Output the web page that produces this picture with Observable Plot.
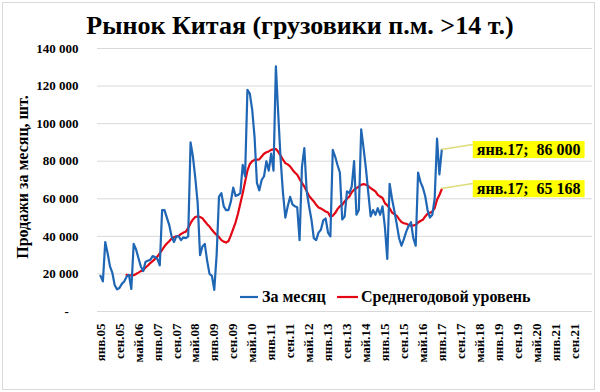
<!DOCTYPE html>
<html><head><meta charset="utf-8">
<script src="https://cdn.jsdelivr.net/npm/d3@7"></script>
<script src="https://cdn.jsdelivr.net/npm/@observablehq/plot@0.6"></script>
<style>
body{margin:0;background:#fff;}
#chart{position:relative;width:600px;height:392px;}
svg text{font-family:"Liberation Serif","Times New Roman",serif;}
</style></head><body><div id="chart"></div>
<script>
// Monthly sales, Jan 2005 .. Jan 2017
const monthly = [
 19000,16000,37000,31000,24000,20500,14000,11800,12500,14700,16000,18500,
 19500,12000,36000,33000,28500,24000,21500,26500,27000,27500,29500,29000,
 28000,24500,54000,54000,50000,46000,40000,37000,40000,40000,38000,39500,
 39000,40000,90000,82500,71000,57700,30000,34600,36000,27000,20000,19000,
 11500,30000,61200,63000,56000,54000,54000,58500,66000,61500,62000,63000,
 78000,72000,118000,116000,107500,93000,68500,64500,70000,72000,80000,75000,
 84000,75000,130500,105000,81000,63000,50000,56000,61000,57000,56000,55500,
 38000,77000,87000,64000,56000,49000,39000,38000,42000,43500,48500,49500,
 42000,40000,86000,82500,78000,74000,49000,50500,64000,63000,66500,80000,
 51500,54000,97000,87000,76000,63000,50600,54000,51500,55000,51500,56000,
 45000,28000,68000,60000,53500,46500,39000,35000,38500,42500,45500,47500,
 39000,35000,74000,69000,66000,61500,54000,50000,51500,60000,92000,73000,
 86000
];
// 12-month average, Dec 2005 .. Jan 2017
const avgStartIndex = 11;
const yearAvg = [
 19500,
 19300,19200,19300,20000,20700,21500,22000,23400,24500,25800,26800,28000,
 29200,31000,32800,34700,36200,37400,38800,39500,40000,40300,41300,42000,
 42500,44500,47000,49000,50300,50600,50300,49700,48000,46500,45200,43500,
 42000,40800,39600,38000,37200,36700,37500,40500,44000,47500,52000,57500,
 63000,69000,75000,78500,80000,80700,80800,81000,82500,84000,84800,85200,
 86000,86300,86500,85000,83000,80800,79000,78300,77300,75500,74000,72800,
 70500,68500,66500,64000,61500,60000,58600,56800,55400,54800,54100,53200,
 52700,50500,51000,52400,54500,56000,56800,58600,60000,61200,63500,64800,
 65700,66500,67500,67800,67500,66700,65700,64800,63900,62100,61200,60400,
 57700,56500,55000,52700,51800,50900,49200,47600,47000,46700,46100,45600,
 45800,46100,47400,48200,48800,50600,52000,52500,53200,55000,59500,62000,
 65168
];
const xTickPos = [0,8,16,24,32,40,48,56,64,72,80,88,96,104,112,120,128,136,144,152,160,168,176,184,192,200];
const xTickLabels = ["янв.05","сен.05","май.06","янв.07","сен.07","май.08","янв.09","сен.09","май.10","янв.11","сен.11","май.12","янв.13","сен.13","май.14","янв.15","сен.15","май.16","янв.17","сен.17","май.18","янв.19","сен.19","май.20","янв.21","сен.21"];
const yTicks = [0,20000,40000,60000,80000,100000,120000,140000];
const yTickLabels = ["-\u00a0\u00a0\u00a0","20 000","40 000","60 000","80 000","100 000","120 000","140 000"];
const seriesNames = ["За месяц","Среднегодовой уровень"];
const seriesColors = ["#1f66b5","#e30613"];
const calloutLabels = ["янв.17;\u00a0 86 000","янв.17;\u00a0 65 168"];
const titleText = "Рынок Китая (грузовики п.м. >14 т.)";
const yTitleText = "Продажи за месяц, шт.";

const monthlyData = monthly.map((v,i)=>({i, v}));
const avgData = yearAvg.map((v,k)=>({i:k+avgStartIndex, v}));
const last = monthly.length-1;
const callouts = [
  {i:last, v:monthly[last], label:calloutLabels[0]},
  {i:avgStartIndex+yearAvg.length-1, v:yearAvg[yearAvg.length-1], label:calloutLabels[1]}
];

const chart = Plot.plot({
  width:600, height:392, marginLeft:97, marginRight:8, marginTop:48, marginBottom:81,
  style:{fontFamily:"Liberation Serif, serif", background:"#fff", overflow:"visible"},
  x:{type:"linear", domain:[-1.27,207.6]},
  y:{domain:[0,140000]},
  marks:[
    Plot.gridY(yTicks, {stroke:"#d9d9d9", strokeOpacity:1, strokeWidth:1}),
    Plot.axisY(yTicks, {tickFormat:d=>yTickLabels[yTicks.indexOf(d)], tickSize:0, tickPadding:19, fontSize:13, fontWeight:"bold", label:null}),
    Plot.axisX(xTickPos, {tickFormat:d=>xTickLabels[xTickPos.indexOf(d)], tickRotate:-90, tickSize:0, tickPadding:12, fontSize:13, fontWeight:"bold", label:null}),
    Plot.line(avgData, {x:"i", y:"v", stroke:seriesColors[1], strokeWidth:2.2}),
    Plot.line(monthlyData, {x:"i", y:"v", stroke:seriesColors[0], strokeWidth:2.2}),
    Plot.text(callouts, {x:"i", y:"v", text:"label", dx:35, textAnchor:"start", fontSize:16, fontWeight:"bold", fill:"#000"})
  ]
});
document.getElementById("chart").appendChild(chart);

const svg = d3.select(chart);
const sx = chart.scale("x"), sy = chart.scale("y");
// frame
svg.insert("rect", ":first-child").attr("x",2.5).attr("y",2.5).attr("width",592).attr("height",387)
  .attr("fill","none").attr("stroke","#d9d9d9");
// callout boxes and leaders
const cg = chart.querySelector('g[aria-label="text"]');
if (cg) {
  const boxes = svg.insert("g", () => cg);
  const svgRect = chart.getBoundingClientRect();
  cg.querySelectorAll("text").forEach((t,k)=>{
    const r = t.getBoundingClientRect();
    const bx = r.left - svgRect.left, by = r.top - svgRect.top;
    const px = sx.apply(callouts[k].i), py = sy.apply(callouts[k].v);
    boxes.append("rect").attr("x",bx-4).attr("y",by).attr("width",r.width+8).attr("height",r.height)
      .attr("fill","#ffff00");
    boxes.append("line").attr("x1",px).attr("y1",py).attr("x2",bx-4).attr("y2",py-5)
      .attr("stroke","#dcdc78").attr("stroke-width",1.5);
  });
}
// title
svg.append("text").attr("x",300).attr("y",34).attr("text-anchor","middle")
  .attr("font-size",26).attr("font-weight","bold").attr("fill","#000").text(titleText);
// y title
svg.append("text").attr("transform","translate(28,177) rotate(-90)").attr("text-anchor","middle")
  .attr("font-size",16).attr("font-weight","bold").attr("fill","#000").text(yTitleText);
// legend
const leg = [{x1:240,x2:258,tx:262},{x1:337,x2:358,tx:361}];
leg.forEach((l,k)=>{
  svg.append("line").attr("x1",l.x1).attr("x2",l.x2).attr("y1",297).attr("y2",297)
    .attr("stroke",seriesColors[k]).attr("stroke-width",2.2);
  svg.append("text").attr("x",l.tx).attr("y",302).attr("text-anchor","start").attr("font-size",16).attr("font-weight","bold")
    .attr("fill","#000").text(seriesNames[k]);
});
</script></body></html>
